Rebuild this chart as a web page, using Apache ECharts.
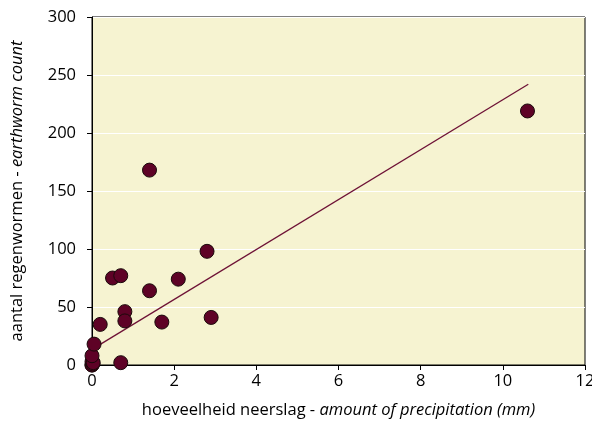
<!DOCTYPE html>
<html>
<head>
<meta charset="utf-8">
<script src="https://cdn.jsdelivr.net/npm/echarts@6/dist/echarts.min.js"></script>
<style>html,body{margin:0;padding:0;background:#fff}#c{width:592px;height:424px}</style>
</head>
<body>
<div id="c"></div>
<script>
// Data
const precipitation = [0, 0, 0.02, 0, 0.03, 0, 0.05, 0.2, 0.5, 0.7, 0.7, 0.8, 0.8, 1.4, 1.4, 1.7, 2.1, 2.8, 2.9, 10.6];
const earthworms    = [0, 0, 1, 3, 2, 8, 18, 35, 75, 77, 2, 46, 38, 168, 64, 37, 74, 98, 41, 219];
const trendX = [0, 10.62];
const trendY = [13.5, 242];
const xTicks = [0, 2, 4, 6, 8, 10, 12];
const yTicks = [0, 50, 100, 150, 200, 250, 300];

const FONT = 'Open Sans';
const FS = 16.5;
const chart = echarts.init(document.getElementById('c'), null, {renderer: 'canvas'});
chart.setOption({
  animation: false,
  grid: {left: 92, right: 7, top: 17, bottom: 59, outerBoundsMode: 'none', containLabel: false, show: true, backgroundColor: '#f6f3d1', borderColor: '#000', borderWidth: 1},
  xAxis: {
    type: 'value', min: xTicks[0], max: xTicks[xTicks.length - 1], interval: 2,
    name: '{n|hoeveelheid neerslag - }{i|amount of precipitation (mm)}',
    nameLocation: 'middle', nameGap: 37,
    nameTextStyle: {rich: {n: {fontFamily: FONT, fontSize: FS, color: '#000'}, i: {fontFamily: FONT, fontSize: FS, fontStyle: 'italic', color: '#000'}}},
    axisLine: {show: true, onZero: false, lineStyle: {color: '#000', width: 1}},
    axisTick: {show: true, inside: false, length: 5, lineStyle: {color: '#000'}},
    axisLabel: {fontFamily: FONT, fontSize: FS, color: '#000', margin: 8},
    splitLine: {show: false}
  },
  yAxis: {
    type: 'value', min: yTicks[0], max: yTicks[yTicks.length - 1], interval: 50,
    name: '{n|aantal regenwormen - }{i|earthworm count}',
    nameLocation: 'middle', nameGap: 66,
    nameTextStyle: {rich: {n: {fontFamily: FONT, fontSize: FS, color: '#000'}, i: {fontFamily: FONT, fontSize: FS, fontStyle: 'italic', color: '#000'}}},
    axisLine: {show: true, onZero: false, lineStyle: {color: '#000', width: 1}},
    axisTick: {show: true, inside: false, length: 5, lineStyle: {color: '#000'}},
    axisLabel: {fontFamily: FONT, fontSize: FS, color: '#000', margin: 16},
    splitLine: {show: true, lineStyle: {color: '#ffffff', width: 1}}
  },
  series: [
    {
      type: 'line',
      data: trendX.map((x, i) => [x, trendY[i]]),
      showSymbol: false, symbol: 'none',
      lineStyle: {color: '#6e1236', width: 1.3},
      z: 2
    },
    {
      type: 'scatter',
      data: precipitation.map((x, i) => [x, earthworms[i]]),
      symbol: 'circle', symbolSize: 14,
      itemStyle: {color: '#5e0226', borderColor: '#1a0a0a', borderWidth: 1, opacity: 1},
      z: 3
    }
  ]
});
</script>
</body>
</html>
